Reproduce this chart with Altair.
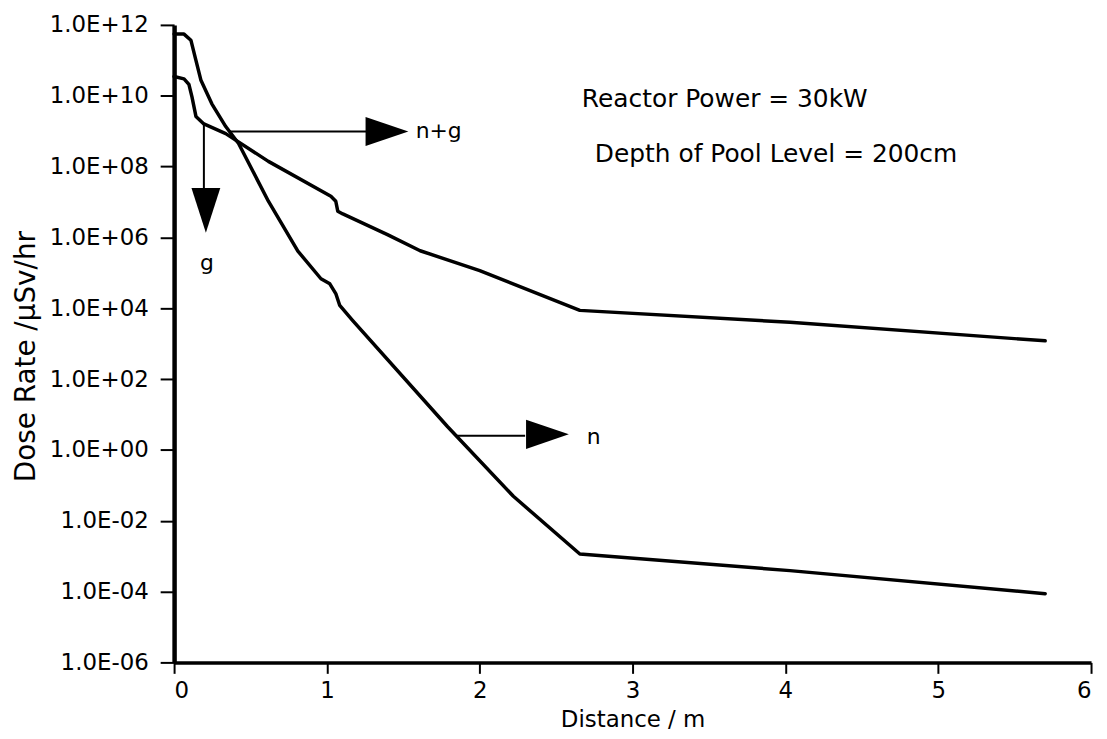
import altair as alt
import pandas as pd

# ---- data (distance in m, dose rate in uSv/hr) ----
dist_n = [0.0, 0.065, 0.11, 0.143, 0.175, 0.247, 0.338, 0.422, 0.617, 0.81,
          0.961, 1.019, 1.058, 1.084, 1.169, 1.79, 2.22, 2.655, 4.03, 5.7]
dose_n = [5.5e11, 5.5e11, 3.7e11, 1.0e11, 2.8e10, 5.9e9, 1.35e9, 4.5e8, 1.05e7, 4.1e5,
          6.8e4, 4.9e4, 2.6e4, 1.2e4, 4.5e3, 4.5, 0.049, 1.15e-3, 3.9e-4, 8.7e-5]

dist_g = [0.0, 0.065, 0.097, 0.117, 0.143, 0.195, 0.338, 0.617, 1.026, 1.058,
          1.071, 1.104, 1.396, 1.61, 2.0, 2.655, 4.03, 5.7]
dose_g = [3.5e10, 3.0e10, 2.1e10, 9.3e9, 2.6e9, 1.6e9, 8.5e8, 1.4e8, 1.45e7, 1.05e7,
          5.5e6, 4.6e6, 1.2e6, 4.2e5, 1.15e5, 8.7e3, 4.0e3, 1.2e3]

x_ticks = [0, 1, 2, 3, 4, 5, 6]
y_ticks = [1e-06, 1e-04, 1e-02, 1e00, 1e02, 1e04, 1e06, 1e08, 1e10, 1e12]
y_tick_labels = ["1.0E-06", "1.0E-04", "1.0E-02", "1.0E+00", "1.0E+02",
                 "1.0E+04", "1.0E+06", "1.0E+08", "1.0E+10", "1.0E+12"]

# annotation arrows (data coordinates)
arrow_x = [0.358, 0.195, 1.842]
arrow_y = [9.8e8, 1.6e9, 2.5]
arrow_x2 = [1.256, 0.195, 2.297]
arrow_y2 = [9.8e8, 2.45e7, 2.5]

head_right_x = [1.393, 2.443]
head_right_y = [9.8e8, 2.75]
head_down_x = [0.208]
head_down_y = [5.75e6]

label_text = ["n+g", "g", "n"]
label_x = [1.581, 0.169, 2.70]
label_y = [9.8e8, 1.9e5, 2.35]

note_text = ["Reactor Power = 30kW", "Depth of Pool Level = 200cm"]
note_x = [2.668, 2.753]
note_y = [8.1e9, 2.2e8]

FONT = "DejaVu Sans"
X_TITLE = "Distance / m"
Y_TITLE = "Dose Rate /\u03bcSv/hr"

df_lines = pd.DataFrame({
    "x": dist_n + dist_g,
    "y": dose_n + dose_g,
    "series": ["n"] * len(dist_n) + ["g"] * len(dist_g),
})
df_arrows = pd.DataFrame({"x": arrow_x, "y": arrow_y, "x2": arrow_x2, "y2": arrow_y2})
df_hr = pd.DataFrame({"x": head_right_x, "y": head_right_y})
df_hd = pd.DataFrame({"x": head_down_x, "y": head_down_y})
df_lab = pd.DataFrame({"x": label_x, "y": label_y, "t": label_text})
df_note = pd.DataFrame({"x": note_x, "y": note_y, "t": note_text})

xs = alt.Scale(domain=[0, 6], nice=False, zero=False)
ys = alt.Scale(type="log", domain=[1e-6, 1e12], nice=False)

label_expr = "[" + ",".join("'%s'" % s for s in y_tick_labels) + "][round(log(datum.value)/LN10/2)+3]"

x_axis = alt.Axis(
    values=x_ticks, format="d", title=X_TITLE, grid=False,
    domainColor="black", domainWidth=3.5, tickColor="black", tickWidth=2, tickSize=11,
    labelFont=FONT, labelFontSize=23, labelColor="black", labelPadding=6,
    titleFont=FONT, titleFontSize=23, titleColor="black", titleFontWeight="normal",
    titleY=64, titleBaseline="alphabetic",
)
y_axis = alt.Axis(
    values=y_ticks, labelExpr=label_expr, title=Y_TITLE, grid=False,
    domainColor="black", domainWidth=4.5, tickColor="black", tickWidth=2, tickSize=14,
    labelFont=FONT, labelFontSize=23, labelColor="black", labelPadding=12,
    titleFont=FONT, titleFontSize=28, titleColor="black", titleFontWeight="normal",
    titleX=-140, titleY=333, titleBaseline="alphabetic", titleAlign="center",
)

X = alt.X("x:Q", scale=xs, axis=x_axis, title=X_TITLE)
Y = alt.Y("y:Q", scale=ys, axis=y_axis, title=Y_TITLE)

lines = alt.Chart(df_lines).mark_line(
    color="black", strokeWidth=3.5, strokeJoin="round", strokeCap="round"
).encode(x=X, y=Y, detail="series:N")

arrows = alt.Chart(df_arrows).mark_rule(color="black", strokeWidth=2).encode(
    x=X, y=Y, x2="x2:Q", y2="y2:Q"
)

tri_right = "M -1 -0.68 L 1 0 L -1 0.68 Z"
tri_down = "M -0.644 -1 L 0.644 -1 L 0 1 Z"

heads_r = alt.Chart(df_hr).mark_point(
    shape=tri_right, size=1849, filled=True, color="black", opacity=1
).encode(x=X, y=Y)
heads_d = alt.Chart(df_hd).mark_point(
    shape=tri_down, size=2025, filled=True, color="black", opacity=1
).encode(x=X, y=Y)

labels = alt.Chart(df_lab).mark_text(
    align="left", baseline="middle", font=FONT, fontSize=22, color="black"
).encode(x=X, y=Y, text="t:N")

notes = alt.Chart(df_note).mark_text(
    align="left", baseline="middle", font=FONT, fontSize=25, color="black"
).encode(x=X, y=Y, text="t:N")

chart = alt.layer(lines, arrows, heads_r, heads_d, labels, notes).properties(
    width=922, height=641,
    autosize=alt.AutoSizeParams(type="none"),
    padding={"left": 167, "top": 15, "right": 8, "bottom": 70},
    background="white",
).configure_view(stroke=None)

chart.save("out.html", embed_options={"renderer": "svg", "actions": False})
